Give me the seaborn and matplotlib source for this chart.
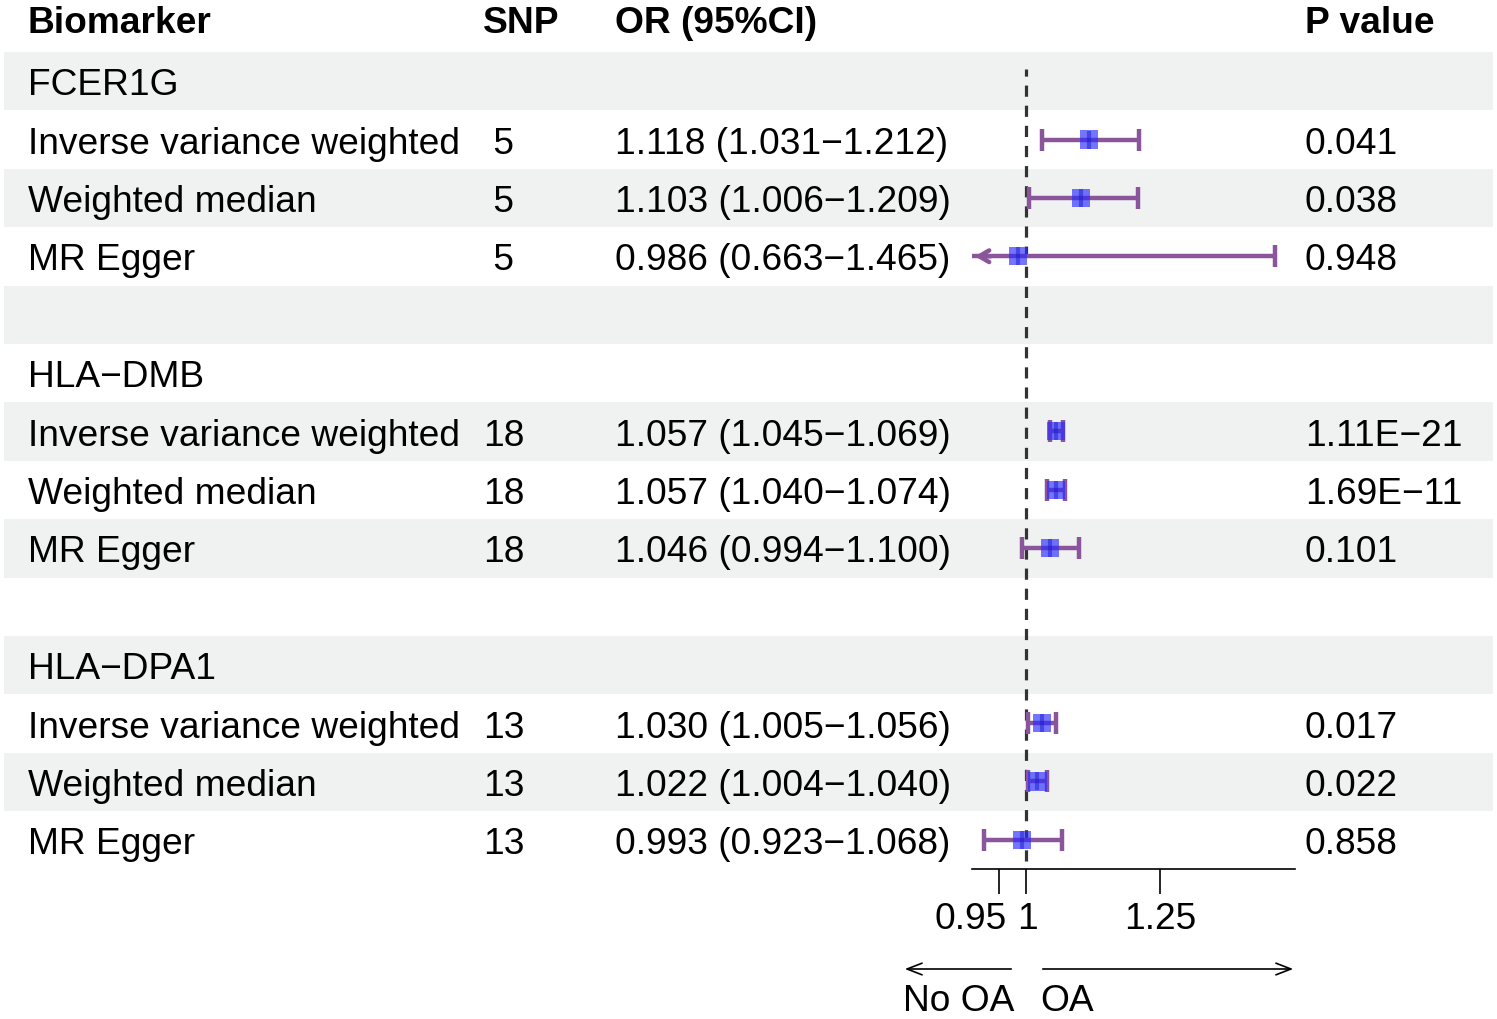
import numpy as np
import pandas as pd
import matplotlib.pyplot as plt
import matplotlib.transforms as mtrans
import seaborn as sns

# Forest plot data (MR results per biomarker)
biomarkers = ["FCER1G", "HLA\u2212DMB", "HLA\u2212DPA1"]
methods = ["Inverse variance weighted", "Weighted median", "MR Egger"]
snp = [5, 5, 5, 18, 18, 18, 13, 13, 13]
odds = [1.118, 1.103, 0.986, 1.057, 1.057, 1.046, 1.030, 1.022, 0.993]
lower = [1.031, 1.006, 0.663, 1.045, 1.040, 0.994, 1.005, 1.004, 0.923]
upper = [1.212, 1.209, 1.465, 1.069, 1.074, 1.100, 1.056, 1.040, 1.068]
pvals = ["0.041", "0.038", "0.948", "1.11E\u221221", "1.69E\u221211", "0.101",
         "0.017", "0.022", "0.858"]
xticks = [0.95, 1, 1.25]
xtick_labels = ["0.95", "1", "1.25"]
xlim = (0.9, 1.502)

sns.set_theme(style="white")
plt.rcParams['font.family'] = ['Liberation Sans', 'DejaVu Sans']
plt.rcParams['text.color'] = 'black'
plt.rcParams['xtick.color'] = 'black'
FS = 26.7

# Build the table rows: group header, 3 methods, blank spacer
rows = []
k = 0
for g, bm in enumerate(biomarkers):
    rows.append(dict(label=bm, kind="group", snp="", OR=np.nan, lo=np.nan,
                     hi=np.nan, p=""))
    for m in methods:
        rows.append(dict(label=m, kind="est", snp=f"{snp[k]:>2}", OR=odds[k],
                         lo=lower[k], hi=upper[k], p=pvals[k]))
        k += 1
    if g < len(biomarkers) - 1:
        rows.append(dict(label="", kind="blank", snp="", OR=np.nan, lo=np.nan,
                         hi=np.nan, p=""))
df = pd.DataFrame(rows)
df["row"] = np.arange(1, len(df) + 1)
est = df[df.kind == "est"].copy()

W, H = 1497, 1020
fig = plt.figure(figsize=(W / 100, H / 100), dpi=100)

# Table layer in pixel coordinates
ax = fig.add_axes([0, 0, 1, 1])
ax.set_xlim(0, W)
ax.set_ylim(H, 0)
ax.axis("off")

top, rh = 53, 58.4
dy = 3.5  # visual centring of text in its row
ycen = lambda r: top + (r - 0.5) * rh + dy

for r in df["row"]:
    if r % 2 == 1:
        ax.axhspan(top + (r - 1) * rh, top + r * rh, xmin=4 / W, xmax=1493 / W,
                   color="#eff2f1", lw=0, zorder=0)

hdr = dict(fontsize=FS, fontweight="bold", va="center", ha="left")
ax.text(28, 20 + dy, "Biomarker", **hdr)
ax.text(483, 20 + dy, "SNP", **hdr)
ax.text(615, 20 + dy, "OR (95%CI)", **hdr)
ax.text(1305, 20 + dy, "P value", **hdr)

for _, rw in df.iterrows():
    y = ycen(rw.row)
    ax.text(28, y, rw.label, fontsize=FS, va="center", ha="left")
    if rw.kind == "est":
        ax.text(483, y, rw.snp, fontsize=FS, va="center", ha="left")
        ax.text(615, y, f"{rw.OR:.3f} ({rw.lo:.3f}\u2212{rw.hi:.3f})",
                fontsize=FS, va="center", ha="left")
        ax.text(1305, y, rw.p, fontsize=FS, va="center", ha="left")

# Forest panel
fx0, fx1, fy_bot = 972, 1295, 870
fa = fig.add_axes([fx0 / W, 1 - fy_bot / H, (fx1 - fx0) / W, (fy_bot - top) / H])
fa.patch.set_alpha(0)
fa.set_xlim(*xlim)
fa.set_ylim(len(df) + 0.5, 0.5)
for s in ["top", "right", "left"]:
    fa.spines[s].set_visible(False)
fa.spines["bottom"].set_color("black")
fa.spines["bottom"].set_linewidth(1.2)
fa.set_yticks([])
fa.set_xticks(xticks)
fa.set_xticklabels(xtick_labels, fontsize=FS)
fa.tick_params(axis="x", direction="out", length=18, width=1.2, color="black",
               pad=5, bottom=True)
# nudge crowded tick labels apart like the reference
tl = fa.get_xticklabels()
tl[0].set_transform(tl[0].get_transform() + mtrans.ScaledTranslation(-0.28, 0, fig.dpi_scale_trans))
tl[1].set_transform(tl[1].get_transform() + mtrans.ScaledTranslation(0.02, 0, fig.dpi_scale_trans))

fa.axvline(1, ymin=0.01, ymax=1 - 17 / (fy_bot - top), color="#333333", lw=2.3,
           ls=(0, (3.5, 2.8)), zorder=1)

ci_col = "#8a559a"
for _, rw in est.iterrows():
    lo = max(rw.lo, xlim[0])
    fa.plot([lo, rw.hi], [rw.row, rw.row], color=ci_col, lw=3.2,
            solid_capstyle="butt", zorder=2)
    fa.plot([rw.hi], [rw.row], marker="|", ms=16, mew=3.2, color=ci_col, zorder=2)
    if rw.lo < xlim[0]:
        fa.annotate("", xy=(xlim[0], rw.row), xytext=(xlim[0] + 0.04, rw.row),
                    arrowprops=dict(arrowstyle="->,head_length=0.6,head_width=0.35",
                                    color=ci_col, lw=3.2), zorder=2)
    else:
        fa.plot([lo], [rw.row], marker="|", ms=16, mew=3.2, color=ci_col, zorder=2)

sns.scatterplot(data=est, x="OR", y="row", marker="s", s=170, color="#2a2aff",
                alpha=0.65, edgecolor="none", ax=fa, zorder=3, legend=False)
fa.plot(est["OR"], est["row"], ls="none", marker="|", ms=13, mew=3,
        color="#1a1acc", alpha=0.5, zorder=4)
fa.set_xlabel("")
fa.set_ylabel("")

# Direction arrows below the axis
ax.annotate("", xy=(902, 970), xytext=(1014, 970),
            arrowprops=dict(arrowstyle="->,head_length=0.9,head_width=0.35",
                            color="black", lw=1.2))
ax.annotate("", xy=(1296, 970), xytext=(1040, 970),
            arrowprops=dict(arrowstyle="->,head_length=0.9,head_width=0.35",
                            color="black", lw=1.2))
ax.text(903, 1002, "No OA", fontsize=FS, va="center", ha="left")
ax.text(1040, 1002, "OA", fontsize=FS, va="center", ha="left")

fig.savefig("out.png", dpi=100)
